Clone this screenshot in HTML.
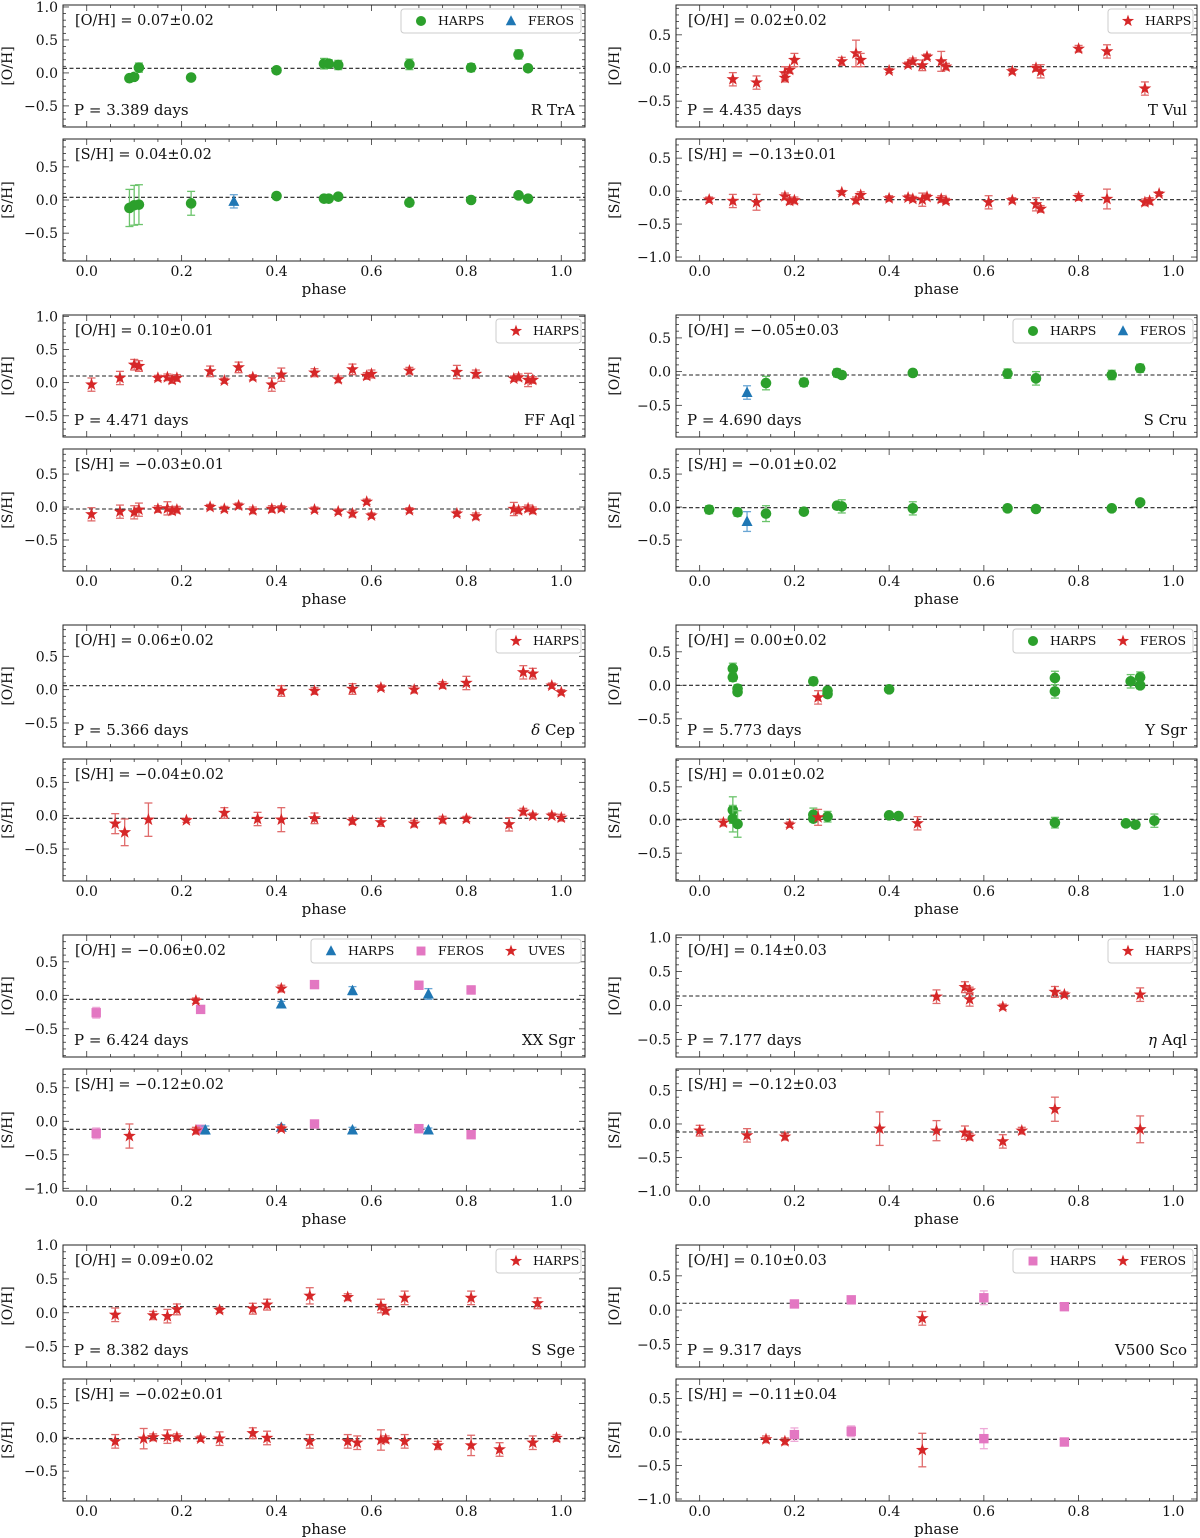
<!DOCTYPE html>
<html><head><meta charset="utf-8">
<style>
body{margin:0;background:#fff;}
svg{display:block;font-family:"DejaVu Serif","Liberation Serif",serif;}
</style></head>
<body>
<svg id="fig" width="1200" height="1538" viewBox="0 0 1200 1538" xmlns="http://www.w3.org/2000/svg"></svg>
<script>
// ---- data: phase, value, error, source (0=HARPS green,1=FEROS blue,2=red star,3=pink square,4=blue triangle) ----
const p1_ph=[0.09,0.10,0.11,0.22,0.40,0.50,0.51,0.53,0.68,0.81,0.91,0.93];
const p1_v=[-0.08,-0.06,0.08,-0.07,0.04,0.14,0.14,0.12,0.13,0.08,0.28,0.07];
const p1_e=[0.04,0.04,0.07,0.03,0.03,0.08,0.06,0.07,0.08,0.06,0.07,0.04];
const p1_s=[0,0,0,0,0,0,0,0,0,0,0,0];
const p2_ph=[0.09,0.10,0.11,0.22,0.40,0.50,0.51,0.53,0.68,0.81,0.91,0.93,0.31];
const p2_v=[-0.12,-0.08,-0.07,-0.05,0.06,0.02,0.02,0.05,-0.04,0.0,0.07,0.02,-0.02];
const p2_e=[0.28,0.3,0.3,0.18,0.03,0.03,0.03,0.03,0.05,0.03,0.04,0.03,0.1];
const p2_s=[0,0,0,0,0,0,0,0,0,0,0,0,4];
const p3_ph=[0.07,0.12,0.18,0.18,0.19,0.20,0.30,0.33,0.34,0.40,0.44,0.45,0.47,0.48,0.51,0.52,0.66,0.71,0.72,0.80,0.86,0.94];
const p3_v=[-0.17,-0.22,-0.08,-0.15,-0.03,0.12,0.1,0.22,0.12,-0.04,0.05,0.1,0.04,0.17,0.1,0.02,-0.05,0.0,-0.05,0.29,0.25,-0.31];
const p3_e=[0.1,0.1,0.1,0.06,0.05,0.1,0.06,0.2,0.1,0.03,0.04,0.05,0.08,0.04,0.15,0.05,0.04,0.05,0.1,0.05,0.1,0.1];
const p3_s=[2,2,2,2,2,2,2,2,2,2,2,2,2,2,2,2,2,2,2,2,2,2];
const p4_ph=[0.02,0.07,0.12,0.18,0.19,0.20,0.30,0.33,0.34,0.40,0.44,0.45,0.47,0.48,0.51,0.52,0.61,0.66,0.71,0.72,0.80,0.86,0.94,0.95,0.97];
const p4_v=[-0.13,-0.15,-0.17,-0.08,-0.15,-0.14,-0.02,-0.14,-0.06,-0.11,-0.1,-0.12,-0.13,-0.09,-0.12,-0.15,-0.17,-0.14,-0.2,-0.27,-0.09,-0.12,-0.17,-0.15,-0.04];
const p4_e=[0.04,0.1,0.12,0.05,0.05,0.05,0.03,0.05,0.05,0.04,0.04,0.04,0.1,0.04,0.05,0.04,0.1,0.04,0.1,0.05,0.05,0.15,0.05,0.05,0.03];
const p4_s=[2,2,2,2,2,2,2,2,2,2,2,2,2,2,2,2,2,2,2,2,2,2,2,2,2];
const p5_ph=[0.01,0.07,0.10,0.11,0.15,0.17,0.18,0.19,0.26,0.29,0.32,0.35,0.39,0.41,0.48,0.53,0.56,0.59,0.60,0.68,0.78,0.82,0.90,0.91,0.93,0.94];
const p5_v=[-0.03,0.07,0.27,0.25,0.07,0.08,0.04,0.07,0.17,0.03,0.23,0.08,-0.03,0.12,0.15,0.05,0.2,0.1,0.13,0.18,0.16,0.13,0.06,0.08,0.04,0.04];
const p5_e=[0.1,0.1,0.08,0.08,0.04,0.05,0.05,0.05,0.08,0.04,0.08,0.04,0.1,0.1,0.06,0.05,0.08,0.05,0.06,0.05,0.1,0.06,0.04,0.05,0.1,0.05];
const p5_s=Array(26).fill(2);
const p6_ph=[0.01,0.07,0.10,0.11,0.15,0.17,0.18,0.19,0.26,0.29,0.32,0.35,0.39,0.41,0.48,0.53,0.56,0.59,0.60,0.68,0.78,0.82,0.90,0.91,0.93,0.94];
const p6_v=[-0.11,-0.07,-0.08,-0.04,-0.03,-0.02,-0.06,-0.04,0.0,-0.03,0.02,-0.05,-0.03,-0.02,-0.04,-0.07,-0.1,0.08,-0.13,-0.05,-0.1,-0.14,-0.03,-0.05,-0.02,-0.05];
const p6_e=[0.1,0.1,0.1,0.1,0.05,0.1,0.05,0.05,0.04,0.04,0.04,0.05,0.05,0.04,0.04,0.04,0.05,0.04,0.04,0.04,0.04,0.05,0.1,0.05,0.05,0.05];
const p6_s=Array(26).fill(2);
const p7_ph=[0.10,0.14,0.22,0.29,0.30,0.45,0.65,0.71,0.87,0.93];
const p7_v=[-0.31,-0.17,-0.16,-0.02,-0.05,-0.02,-0.03,-0.1,-0.05,0.05];
const p7_e=[0.1,0.1,0.06,0.06,0.05,0.05,0.07,0.1,0.07,0.06];
const p7_s=[4,0,0,0,0,0,0,0,0,0];
const p8_ph=[0.02,0.08,0.14,0.22,0.29,0.30,0.45,0.65,0.71,0.87,0.93,0.10];
const p8_v=[-0.04,-0.08,-0.1,-0.07,0.02,0.01,-0.02,-0.02,-0.03,-0.02,0.07,-0.22];
const p8_e=[0.06,0.06,0.12,0.04,0.05,0.1,0.1,0.05,0.04,0.03,0.03,0.15];
const p8_s=[0,0,0,0,0,0,0,0,0,0,0,4];
const p9_ph=[0.41,0.48,0.56,0.62,0.69,0.75,0.80,0.92,0.94,0.98,1.0];
const p9_v=[-0.02,-0.02,0.01,0.03,0.0,0.07,0.1,0.26,0.24,0.06,-0.04];
const p9_e=[0.08,0.05,0.08,0.04,0.05,0.05,0.1,0.1,0.08,0.04,0.04];
const p9_s=Array(11).fill(2);
const p10_ph=[0.06,0.08,0.13,0.21,0.29,0.36,0.41,0.48,0.56,0.62,0.69,0.75,0.80,0.89,0.92,0.94,0.98,1.0];
const p10_v=[-0.12,-0.25,-0.06,-0.07,0.04,-0.05,-0.06,-0.04,-0.08,-0.1,-0.12,-0.06,-0.05,-0.13,0.06,0.0,0.0,-0.03];
const p10_e=[0.15,0.2,0.25,0.03,0.08,0.1,0.18,0.08,0.05,0.06,0.05,0.05,0.04,0.1,0.05,0.04,0.04,0.05];
const p10_s=Array(18).fill(2);
const p11_ph=[0.07,0.07,0.08,0.08,0.24,0.27,0.27,0.40,0.75,0.75,0.91,0.93,0.93,0.25];
const p11_v=[0.25,0.12,-0.05,-0.1,0.06,-0.08,-0.13,-0.06,0.11,-0.09,0.06,0.12,0.0,-0.18];
const p11_e=[0.08,0.06,0.06,0.05,0.06,0.05,0.05,0.03,0.1,0.1,0.1,0.08,0.05,0.1];
const p11_s=[0,0,0,0,0,0,0,0,0,0,0,0,0,2];
const p12_ph=[0.07,0.07,0.08,0.24,0.24,0.27,0.40,0.42,0.75,0.90,0.92,0.96,0.05,0.19,0.25,0.46];
const p12_v=[0.15,0.02,-0.06,0.08,0.02,0.05,0.07,0.06,-0.04,-0.05,-0.07,-0.01,-0.04,-0.07,0.04,-0.05];
const p12_e=[0.2,0.2,0.2,0.1,0.05,0.08,0.03,0.03,0.08,0.04,0.05,0.1,0.05,0.04,0.12,0.1];
const p12_s=[0,0,0,0,0,0,0,0,0,0,0,0,2,2,2,2];
const p13_ph=[0.02,0.24,0.48,0.70,0.81,0.41,0.56,0.72,0.23,0.41];
const p13_v=[-0.26,-0.21,0.16,0.15,0.08,-0.13,0.07,0.02,-0.08,0.1];
const p13_e=[0.08,0.04,0.03,0.06,0.06,0.04,0.06,0.08,0.04,0.05];
const p13_s=[3,3,3,3,3,4,4,4,2,2];
const p14_ph=[0.02,0.24,0.48,0.70,0.81,0.25,0.41,0.56,0.72,0.09,0.23,0.41];
const p14_v=[-0.18,-0.12,-0.04,-0.11,-0.2,-0.13,-0.09,-0.13,-0.13,-0.22,-0.14,-0.11];
const p14_e=[0.08,0.04,0.03,0.06,0.03,0.06,0.04,0.04,0.03,0.18,0.05,0.04];
const p14_s=[3,3,3,3,3,4,4,4,4,2,2,2];
const p15_ph=[0.50,0.56,0.57,0.57,0.64,0.75,0.77,0.93];
const p15_v=[0.13,0.27,0.22,0.09,-0.02,0.2,0.16,0.16];
const p15_e=[0.1,0.08,0.05,0.1,0.04,0.08,0.04,0.1];
const p15_s=Array(8).fill(2);
const p16_ph=[0.0,0.10,0.18,0.38,0.50,0.56,0.57,0.64,0.68,0.75,0.93];
const p16_v=[-0.1,-0.17,-0.19,-0.07,-0.1,-0.13,-0.19,-0.26,-0.1,0.22,-0.08];
const p16_e=[0.08,0.1,0.05,0.25,0.15,0.1,0.05,0.1,0.05,0.18,0.2];
const p16_s=Array(11).fill(2);
const p17_ph=[0.06,0.14,0.17,0.19,0.28,0.35,0.38,0.47,0.55,0.62,0.63,0.67,0.81,0.95];
const p17_v=[-0.03,-0.04,-0.05,0.05,0.04,0.06,0.12,0.25,0.23,0.1,0.03,0.22,0.22,0.14];
const p17_e=[0.1,0.06,0.1,0.08,0.04,0.08,0.08,0.12,0.05,0.1,0.05,0.1,0.1,0.08];
const p17_s=Array(14).fill(2);
const p18_ph=[0.06,0.12,0.14,0.17,0.19,0.24,0.28,0.35,0.38,0.47,0.55,0.57,0.62,0.63,0.67,0.74,0.81,0.87,0.94,0.99];
const p18_v=[-0.06,-0.02,0.0,0.01,0.0,-0.02,-0.02,0.06,-0.01,-0.06,-0.06,-0.08,-0.04,-0.03,-0.06,-0.12,-0.12,-0.18,-0.08,-0.01];
const p18_e=[0.1,0.15,0.05,0.1,0.05,0.04,0.1,0.08,0.1,0.1,0.1,0.1,0.15,0.05,0.1,0.06,0.15,0.1,0.1,0.05];
const p18_s=Array(20).fill(2);
const p19_ph=[0.20,0.32,0.60,0.77,0.47];
const p19_v=[0.09,0.15,0.18,0.05,-0.12];
const p19_e=[0.03,0.03,0.1,0.03,0.1];
const p19_s=[3,3,3,3,2];
const p20_ph=[0.20,0.32,0.60,0.77,0.14,0.18,0.47];
const p20_v=[-0.04,0.01,-0.1,-0.15,-0.11,-0.14,-0.27];
const p20_e=[0.1,0.08,0.15,0.04,0.05,0.05,0.25];
const p20_s=[3,3,3,3,2,2,2];

const means=[0.07,0.04,0.02,-0.13,0.10,-0.03,-0.05,-0.01,0.06,-0.04,0.00,0.01,-0.06,-0.12,0.14,-0.12,0.09,-0.02,0.10,-0.11];
const meanErr=[0.02,0.02,0.02,0.01,0.01,0.01,0.03,0.02,0.02,0.02,0.02,0.02,0.02,0.02,0.03,0.03,0.02,0.01,0.03,0.04];
const periods=["3.389","4.435","4.471","4.690","5.366","5.773","6.424","7.177","8.382","9.317"];
const starNames=["R TrA","T Vul","FF Aql","S Cru","δ Cep","Y Sgr","XX Sgr","η Aql","S Sge","V500 Sco"];
const yMins=[-0.82,-0.92,-0.89,-1.06,-0.82,-0.97,-0.97,-0.97,-0.86,-0.98,-0.92,-0.92,-0.92,-1.04,-0.76,-1.0,-0.8,-0.94,-0.83,-1.03];
const yMaxs=[1.03,0.92,0.95,0.79,1.02,0.88,0.84,0.88,0.97,0.85,0.9,0.92,0.9,0.78,1.04,0.82,1.0,0.86,0.95,0.79];
const legends=[["HARPS","FEROS"],["HARPS"],["HARPS"],["HARPS","FEROS"],["HARPS"],["HARPS","FEROS"],["HARPS","FEROS","UVES"],["HARPS"],["HARPS"],["HARPS","FEROS"]];
const legendSrc=[[0,4],[2],[2],[0,4],[2],[0,2],[4,3,2],[2],[2],[3,2]];
const xTicks=[0,0.2,0.4,0.6,0.8,1.0];
const xTickLabels=["0.0","0.2","0.4","0.6","0.8","1.0"];

const PH=[p1_ph,p2_ph,p3_ph,p4_ph,p5_ph,p6_ph,p7_ph,p8_ph,p9_ph,p10_ph,p11_ph,p12_ph,p13_ph,p14_ph,p15_ph,p16_ph,p17_ph,p18_ph,p19_ph,p20_ph];
const VV=[p1_v,p2_v,p3_v,p4_v,p5_v,p6_v,p7_v,p8_v,p9_v,p10_v,p11_v,p12_v,p13_v,p14_v,p15_v,p16_v,p17_v,p18_v,p19_v,p20_v];
const EE=[p1_e,p2_e,p3_e,p4_e,p5_e,p6_e,p7_e,p8_e,p9_e,p10_e,p11_e,p12_e,p13_e,p14_e,p15_e,p16_e,p17_e,p18_e,p19_e,p20_e];
const SS=[p1_s,p2_s,p3_s,p4_s,p5_s,p6_s,p7_s,p8_s,p9_s,p10_s,p11_s,p12_s,p13_s,p14_s,p15_s,p16_s,p17_s,p18_s,p19_s,p20_s];

const NS="http://www.w3.org/2000/svg";
const svg=document.getElementById('fig');
const COL=['#2ca02c','#1f77b4','#d62728','#e377c2','#1f77b4'];
const ECOL=['#6cc46c','#6aa6d4','#e06b6b','#eeaad8','#6aa6d4'];
function mk(tag,attrs,parent){const e=document.createElementNS(NS,tag);for(const k in attrs)e.setAttribute(k,attrs[k]);(parent||svg).appendChild(e);return e;}
function fmt(v){return (v<0?'−':'')+Math.abs(v).toFixed(2);}
function fmtT(v){return (v<-1e-9?'−':'')+Math.abs(v).toFixed(1);}
function marker(g,s,cx,cy,sc){
  sc=sc||1;let m;
  if(s===0){m=mk('circle',{cx:cx,cy:cy,r:5.3*sc,fill:COL[0]},g);}
  else if(s===2){let pts=[];for(let i=0;i<10;i++){const r=(i%2?2.7:6.7)*sc;const a=-Math.PI/2+i*Math.PI/5;pts.push((cx+r*Math.cos(a)).toFixed(1)+','+(cy+r*Math.sin(a)).toFixed(1));}
    m=mk('polygon',{points:pts.join(' '),fill:COL[2]},g);}
  else if(s===3){m=mk('rect',{x:cx-4.7*sc,y:cy-4.7*sc,width:9.4*sc,height:9.4*sc,fill:COL[3]},g);}
  else {m=mk('polygon',{points:`${cx},${cy-6*sc} ${cx+5.5*sc},${cy+4.5*sc} ${cx-5.5*sc},${cy+4.5*sc}`,fill:COL[s]},g);}
  
  
  return m;
}
for(let p=0;p<20;p++){
  const row=Math.floor(p/4), col=Math.floor(p%4/2), isS=(p%2===1), si=row*2+col;
  const x0=col?676:63, x1=col?1197:585;
  const top=5+310*row+(isS?134:0), bot=top+122;
  const ymin=yMins[p], ymax=yMaxs[p];
  const X=v=>x0+(v+0.05)/1.1*(x1-x0);
  const Y=v=>bot-(v-ymin)/(ymax-ymin)*(bot-top);
  const g=mk('g',{});
  
  
  const ml=mk('line',{x1:x0,x2:x1,y1:Y(means[p]),y2:Y(means[p]),stroke:'#222','stroke-width':1.1,'stroke-dasharray':'4,2.5'},g);
  
  for(let t=0;t<=1.0001;t+=0.05){const xx=X(t);const big=Math.abs(t/0.2-Math.round(t/0.2))<1e-6;const L=big?6:3;
    mk('line',{x1:xx,x2:xx,y1:bot,y2:bot-L,stroke:'#333','stroke-width':0.8},g);
    mk('line',{x1:xx,x2:xx,y1:top,y2:top+L,stroke:'#333','stroke-width':0.8},g);}
  for(let k=Math.ceil(ymin*10);k<=Math.floor(ymax*10);k++){const t=k/10,yy=Y(t);const big=(k%5===0);const L=big?6:3;
    mk('line',{x1:x0,x2:x0+L,y1:yy,y2:yy,stroke:'#333','stroke-width':0.8},g);
    mk('line',{x1:x1,x2:x1-L,y1:yy,y2:yy,stroke:'#333','stroke-width':0.8},g);
    if(big){const tl=mk('text',{x:x0-5,y:yy+5,'text-anchor':'end','font-size':14,fill:'#111'},g);tl.textContent=fmtT(t);
      }}
  const fr=mk('rect',{x:x0,y:top,width:x1-x0,height:bot-top,fill:'none',stroke:'#222','stroke-width':1},g);
  
  const yl=mk('text',{x:0,y:0,transform:`translate(${col?619:12},${(top+bot)/2}) rotate(-90)`,'text-anchor':'middle','font-size':14,fill:'#111'},g);
  yl.textContent=isS?'[S/H]':'[O/H]';
  const an=mk('text',{x:x0+12,y:top+20,'font-size':14.5,fill:'#111'},g);
  an.textContent=(isS?'[S/H] = ':'[O/H] = ')+fmt(means[p])+'±'+meanErr[p].toFixed(2);
  
  if(!isS){
    const pt=mk('text',{x:x0+11,y:bot-12,'font-size':15,fill:'#111'},g);pt.textContent='P = '+periods[si]+' days';
    
    const nm=mk('text',{x:x1-10,y:bot-12,'font-size':15,'text-anchor':'end',fill:'#111'},g);
    if(starNames[si].startsWith('δ')||starNames[si].startsWith('η')){const a=mk('tspan',{'font-style':'italic'},nm);a.textContent=starNames[si][0];const b=mk('tspan',{},nm);b.textContent=starNames[si].slice(1);}
    else nm.textContent=starNames[si];
    
    const labs=legends[si],n=labs.length,w=n===1?85:(n===2?180:270);
    const lg=mk('g',{},g);
    mk('rect',{x:x1-4-w,y:top+4,width:w,height:24,rx:3,fill:'#fff',stroke:'#ccc','stroke-width':1},lg);
    for(let i=0;i<n;i++){const ex=x1-4-w+i*90;
      const ent=mk('g',{},lg);
      marker(ent,legendSrc[si][i],ex+20,top+16,0.95);
      const lt=mk('text',{x:ex+37,y:top+20,'font-size':12.5,fill:'#111'},ent);lt.textContent=labs[i];}
  } else {
    for(let i=0;i<xTicks.length;i++){const tl=mk('text',{x:X(xTicks[i]),y:bot+15,'text-anchor':'middle','font-size':14,fill:'#111'},g);tl.textContent=xTickLabels[i];
      }
    const xl=mk('text',{x:(x0+x1)/2,y:bot+33,'text-anchor':'middle','font-size':15,fill:'#111'},g);xl.textContent='phase';
    
  }
  const ph=PH[p],vv=VV[p],ee=EE[p],ss=SS[p];
  for(let i=0;i<ph.length;i++){
    const cx=X(ph[i]),cy=Y(vv[i]),y1=Y(vv[i]+ee[i]),y2=Y(vv[i]-ee[i]),c=ECOL[ss[i]];
    const eg=mk('g',{stroke:c,'stroke-width':1.3},g);
    mk('line',{x1:cx,x2:cx,y1:y1,y2:y2},eg);mk('line',{x1:cx-4,x2:cx+4,y1:y1,y2:y1},eg);mk('line',{x1:cx-4,x2:cx+4,y1:y2,y2:y2},eg);
    marker(g,ss[i],cx,cy,1);
  }
}
</script>
</body></html>
